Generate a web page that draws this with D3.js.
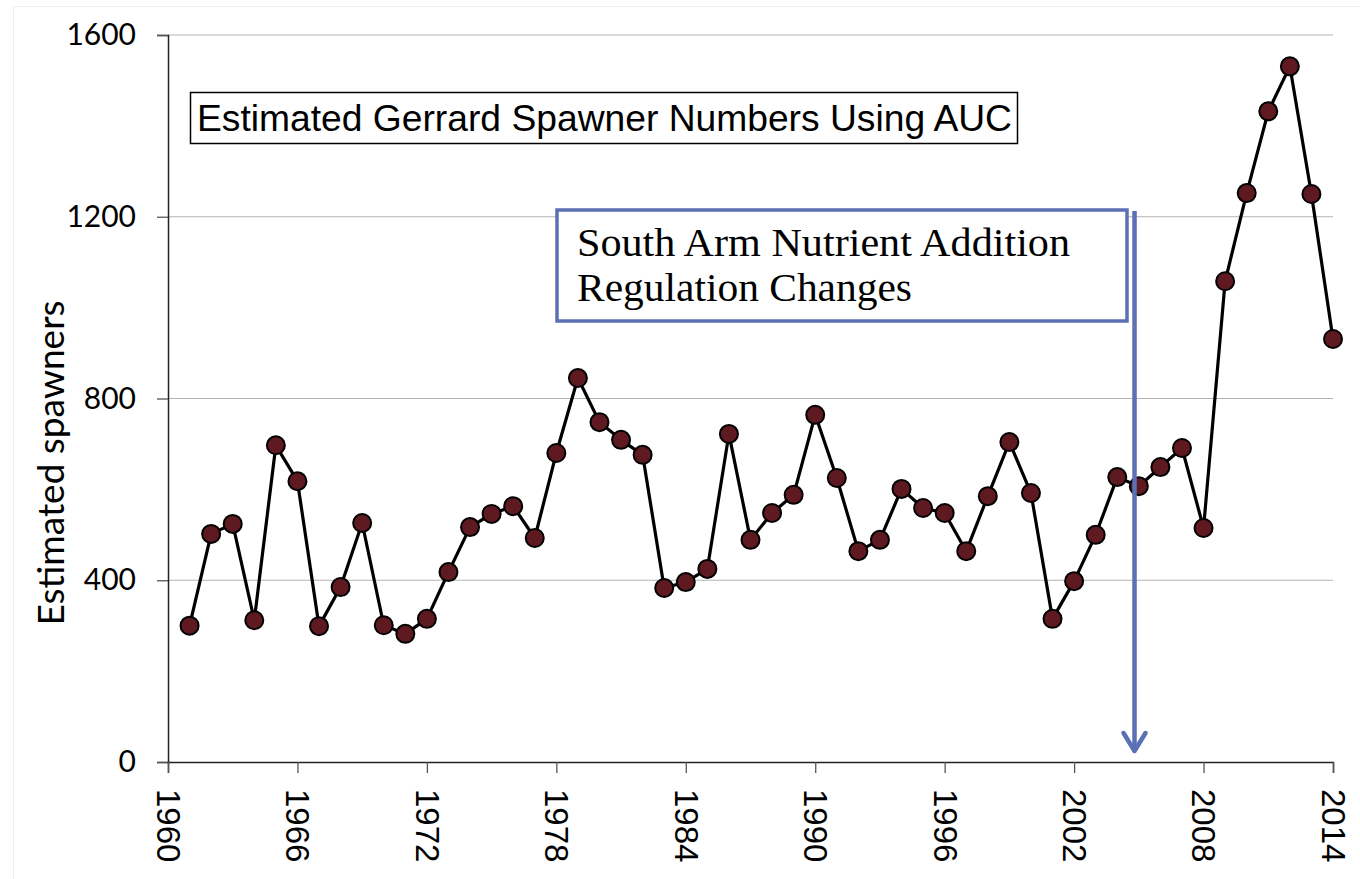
<!DOCTYPE html>
<html>
<head>
<meta charset="utf-8">
<script src="https://cdn.jsdelivr.net/npm/d3@7"></script>
<style>
  html, body { margin: 0; padding: 0; background: #fff; }
  svg { display: block; }
</style>
</head>
<body>
<svg id="chart" width="1360" height="879"></svg>
<script>
const years = [1961,1962,1963,1964,1965,1966,1967,1968,1969,1970,1971,1972,1973,1974,1975,1976,1977,1978,1979,1980,1981,1982,1983,1984,1985,1986,1987,1988,1989,1990,1991,1992,1993,1994,1995,1996,1997,1998,1999,2000,2001,2002,2003,2004,2005,2006,2007,2008,2009,2010,2011,2012,2013,2014];
const spawners = [300,502,524,312,697,618,299,385,526,301,282,315,418,517,546,563,493,680,845,748,709,676,383,396,425,722,489,548,588,764,625,464,489,601,559,548,464,585,704,592,315,398,500,627,607,649,691,515,1058,1252,1432,1531,1250,931];
const xTicks = [1960,1966,1972,1978,1984,1990,1996,2002,2008,2014];
const yTicks = [0,400,800,1200,1600];
const titleText = "Estimated Gerrard Spawner Numbers Using AUC";
const noteLines = ["South Arm Nutrient Addition", "Regulation Changes"];
const arrowYear = 2004.8;
const yLabel = "Estimated spawners";

const svg = d3.select("#chart");
const L = 168, R = 1333, T = 35, B = 762;
const x = d3.scaleLinear().domain([1960, 2014]).range([L, R]);
const y = d3.scaleLinear().domain([0, 1600]).range([B, T]);

// faint slide border
svg.append("rect").attr("x", 13.5).attr("y", 6.5).attr("width", 1360).attr("height", 900)
  .attr("fill", "none").attr("stroke", "#eeeeee").attr("stroke-width", 1);

// gridlines
svg.append("g").selectAll("line").data(yTicks.filter(d => d > 0)).join("line")
  .attr("x1", L).attr("x2", R).attr("y1", d => y(d)).attr("y2", d => y(d))
  .attr("stroke", "#b3b3b3").attr("stroke-width", 1.2);

// y axis
const yAxis = svg.append("g").attr("transform", `translate(${L},0)`)
  .call(d3.axisLeft(y).tickValues(yTicks).tickSize(11).tickPadding(21).tickFormat(d3.format("d")));
yAxis.select(".domain").attr("stroke", "#222").attr("stroke-width", 1.5);
yAxis.selectAll(".tick line").attr("stroke", "#555").attr("stroke-width", 1.3);
yAxis.selectAll("text").attr("font-family", "Lato, 'Open Sans', sans-serif").attr("font-size", 30).attr("fill", "#000");

// x axis
const xAxis = svg.append("g").attr("transform", `translate(0,${B})`)
  .call(d3.axisBottom(x).tickValues(xTicks).tickSize(11).tickFormat(d3.format("d")));
xAxis.select(".domain").attr("stroke", "#222").attr("stroke-width", 1.5);
xAxis.selectAll(".tick line").attr("stroke", "#555").attr("stroke-width", 1.3);
xAxis.selectAll("text")
  .attr("font-family", "'Liberation Sans', Arial, sans-serif").attr("font-size", 33).attr("fill", "#000")
  .attr("transform", "rotate(90)")
  .attr("x", 27).attr("y", 0).attr("dy", "0.35em")
  .attr("text-anchor", "start");

// y label
svg.append("text")
  .attr("transform", `translate(64,463) rotate(-90)`)
  .attr("text-anchor", "middle")
  .attr("font-family", "Lato, 'Open Sans', sans-serif").attr("font-size", 37)
  .attr("fill", "#000").text(yLabel);

// line
const line = d3.line().x((d, i) => x(years[i])).y(d => y(d));
svg.append("path").datum(spawners).attr("d", line)
  .attr("fill", "none").attr("stroke", "#000").attr("stroke-width", 3.2).attr("stroke-linejoin", "round");

// markers
svg.append("g").selectAll("circle").data(spawners).join("circle")
  .attr("cx", (d, i) => x(years[i])).attr("cy", d => y(d)).attr("r", 9)
  .attr("fill", "#5e1a20").attr("stroke", "#000").attr("stroke-width", 2);

// title box
svg.append("rect").attr("x", 190.5).attr("y", 92.5).attr("width", 827).attr("height", 51)
  .attr("fill", "#fff").attr("stroke", "#000").attr("stroke-width", 1.5);
svg.append("text").attr("x", 197).attr("y", 131)
  .attr("font-family", "'Liberation Sans Narrow', 'Arial Narrow', 'Liberation Sans', sans-serif").attr("font-size", 36)
  .attr("textLength", 815).attr("lengthAdjust", "spacingAndGlyphs")
  .attr("fill", "#000").text(titleText);

// note box
const blue = "#5b70b5";
const noteLens = [493, 335];
svg.append("rect").attr("x", 557).attr("y", 210).attr("width", 570).attr("height", 111)
  .attr("fill", "#fff").attr("stroke", blue).attr("stroke-width", 3.5);
svg.append("g").selectAll("text").data(noteLines).join("text")
  .attr("x", 577).attr("y", (d, i) => 256 + i * 45)
  .attr("font-family", "'Liberation Serif', 'DejaVu Serif', serif").attr("font-size", 40)
  .attr("textLength", (d, i) => noteLens[i]).attr("lengthAdjust", "spacingAndGlyphs")
  .attr("fill", "#000").text(d => d);

// arrow
const ax = x(arrowYear);
svg.append("line").attr("x1", ax).attr("x2", ax).attr("y1", 211).attr("y2", 750)
  .attr("stroke", blue).attr("stroke-width", 4.5);
svg.append("path")
  .attr("d", `M${ax - 11},${733} L${ax},${751} L${ax + 11},${733}`)
  .attr("fill", "none").attr("stroke", blue).attr("stroke-width", 4.5).attr("stroke-linecap", "round").attr("stroke-linejoin", "round");
</script>
</body>
</html>
